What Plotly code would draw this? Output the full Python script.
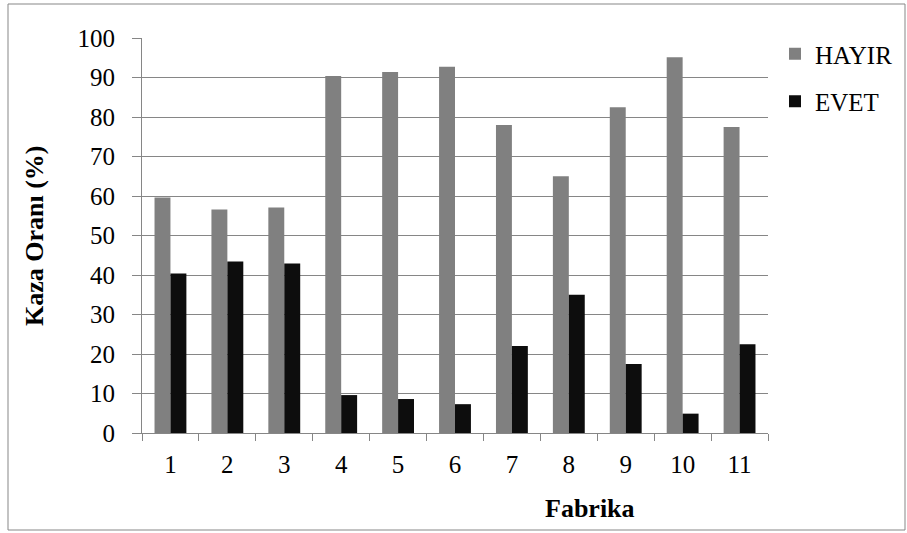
import plotly.graph_objects as go

categories = ["1", "2", "3", "4", "5", "6", "7", "8", "9", "10", "11"]
hayir = [59.6, 56.6, 57.1, 90.4, 91.4, 92.7, 78.0, 65.0, 82.5, 95.1, 77.5]
evet = [40.4, 43.4, 42.9, 9.6, 8.6, 7.3, 22.0, 35.0, 17.5, 4.9, 22.5]

FONT = "Times New Roman, Liberation Serif, DejaVu Serif, serif"

fig = go.Figure()
fig.add_trace(go.Bar(x=categories, y=hayir, name="HAYIR", legendgroup="h",
                     marker=dict(color="#808080", line=dict(width=0))))
fig.add_trace(go.Bar(x=categories, y=evet, name="EVET", legendgroup="e",
                     marker=dict(color="#0d0d0d", line=dict(width=0))))

L, R, T, B = 142, 139, 38, 100
W, H = 907, 533
pw, ph = W - L - R, H - T - B

def px(x):
    return (x - L) / pw

def py(y):
    return (H - B - y) / ph

fig.update_layout(
    width=W, height=H,
    margin=dict(l=L, r=R, t=T, b=B, pad=0, autoexpand=False),
    paper_bgcolor="white", plot_bgcolor="white",
    barmode="group", bargap=0.44, bargroupgap=0,
    font=dict(family=FONT, size=25, color="black"),
    showlegend=True,
    legend=dict(x=px(775), y=py(31), xanchor="left", yanchor="top",
                font=dict(family=FONT, size=25, color="black"),
                itemwidth=30, tracegroupgap=12, bgcolor="rgba(0,0,0,0)"),
    xaxis=dict(type="category", showgrid=False, showline=True, linecolor="#868686",
               linewidth=1, ticks="outside", tickson="boundaries", ticklen=7,
               tickcolor="#868686", tickfont=dict(family=FONT, size=25),
               ticklabelstandoff=9, automargin=False),
    yaxis=dict(range=[0, 100], dtick=10, showgrid=True, gridcolor="#868686",
               gridwidth=1, showline=True, linecolor="#868686", linewidth=1,
               ticks="outside", ticklen=9, tickcolor="#868686",
               tickfont=dict(family=FONT, size=25), ticklabelstandoff=12,
               zeroline=False, automargin=False),
    annotations=[
        dict(text="<b>Fabrika</b>", x=px(590), y=py(508), xref="paper", yref="paper",
             xanchor="center", yanchor="middle",
             showarrow=False, font=dict(family=FONT, size=26)),
        dict(text="<b>Kaza Oranı (%)</b>", x=px(34), y=py(236), xref="paper", yref="paper",
             xanchor="center", yanchor="middle",
             showarrow=False, textangle=-90, font=dict(family=FONT, size=26)),
    ],
    shapes=[
        dict(type="rect", xref="paper", yref="paper",
             x0=px(8), x1=px(905), y0=py(530), y1=py(4),
             line=dict(color="#878787", width=1), fillcolor="rgba(0,0,0,0)", layer="below"),
    ],
)

fig.write_html("out.html")
